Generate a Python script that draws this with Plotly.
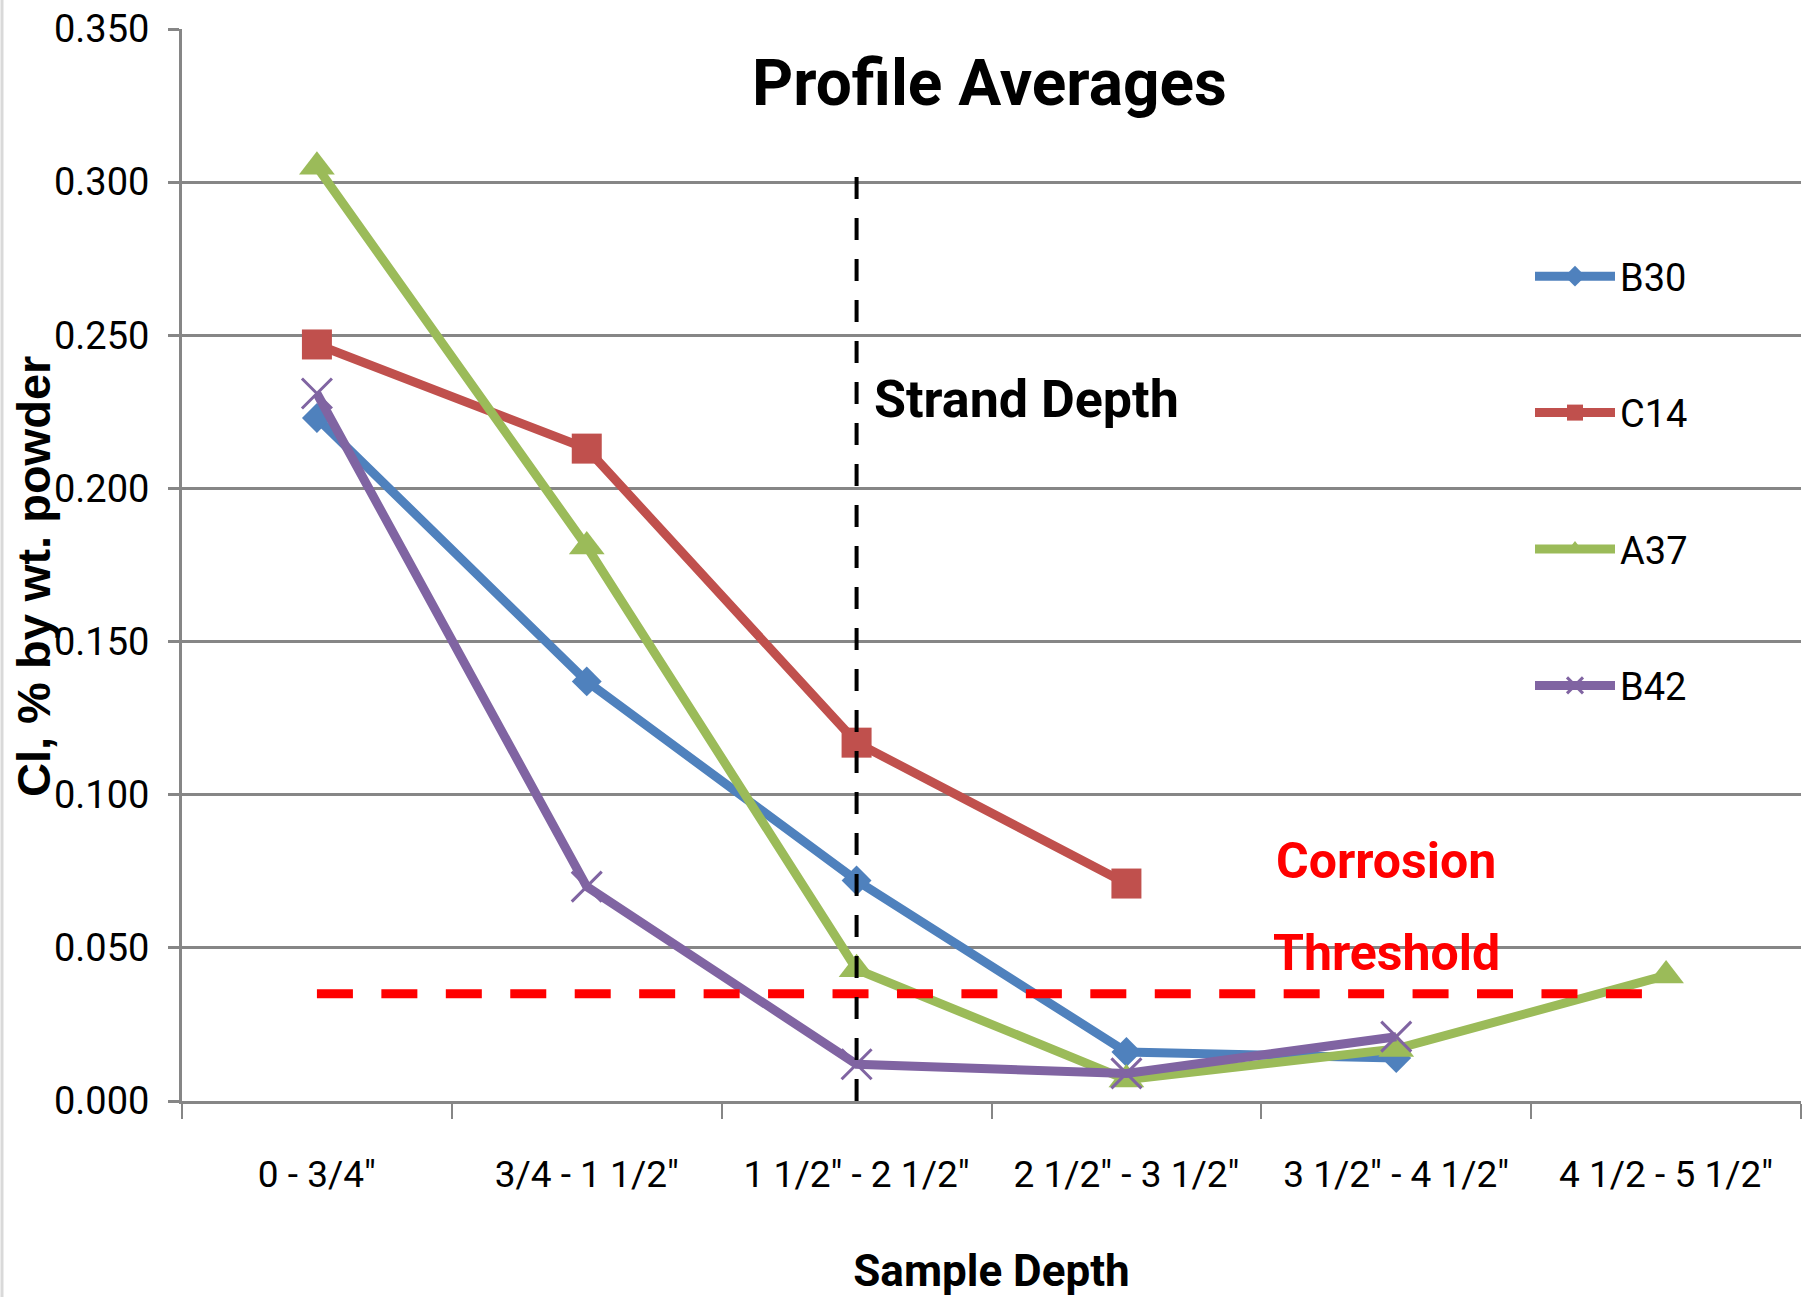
import plotly.graph_objects as go

categories = ['0 - 3/4"', '3/4 - 1 1/2"', '1 1/2" - 2 1/2"', '2 1/2" - 3 1/2"', '3 1/2" - 4 1/2"', '4 1/2 - 5 1/2"']
b30 = [0.223, 0.137, 0.072, 0.016, 0.014, None]
c14 = [0.247, 0.213, 0.117, 0.071, None, None]
a37 = [0.305, 0.181, 0.043, 0.007, 0.017, 0.041]
b42 = [0.231, 0.070, 0.012, 0.009, 0.021, None]
threshold = 0.035
strand_top = 0.302

FONT = "Roboto, Liberation Sans, sans-serif"
ARIAL = "Liberation Sans, Arial, sans-serif"

# plot area in pixels
L, R, T, B = 182, 1801, 29, 1101
W, H = 1808, 1297
def px(x):
    return (x - L) / (R - L)
def py(y):
    return 1 - (y - T) / (B - T)

fig = go.Figure()

series = [
    ("B30", b30, "#4F81BD", dict(symbol="diamond", size=23)),
    ("C14", c14, "#C0504D", dict(symbol="square", size=30)),
    ("A37", a37, "#9BBB59", dict(symbol="triangle-up", size=31)),
    ("B42", b42, "#8064A2", dict(symbol="x-thin-open", size=30, line=dict(width=3, color="#8064A2"))),
]
for name, vals, col, mk in series:
    m = dict(color=col, **mk)
    fig.add_trace(go.Scatter(
        x=categories, y=vals, name=name, mode="lines+markers",
        line=dict(color=col, width=9), marker=m, legendgroup=name,
        connectgaps=False,
    ))

# Corrosion threshold dashed line
fig.add_shape(type="line", xref="x", yref="y", x0=0, x1=4.911, y0=threshold, y1=threshold,
              line=dict(color="#FF0000", width=9, dash="36px,28.45px"), layer="above")
# Strand depth vertical dashed line
fig.add_shape(type="line", xref="x", yref="y", x0=2, x1=2, y0=0, y1=strand_top,
              line=dict(color="#000000", width=4, dash="22px,19px"), layer="above")

fig.add_annotation(text="<b>Profile Averages</b>", xref="paper", yref="paper",
                   x=px(989), y=py(83), showarrow=False,
                   font=dict(family=FONT, size=64, color="black"), xanchor="center", yanchor="middle")
fig.add_annotation(text="<b>Strand Depth</b>", xref="paper", yref="paper",
                   x=px(872), y=py(399), showarrow=False,
                   font=dict(family=FONT, size=52, color="black"), xanchor="left", yanchor="middle")
fig.add_annotation(text="<b>Corrosion</b>", xref="paper", yref="paper",
                   x=px(1386), y=py(861), showarrow=False,
                   font=dict(family=FONT, size=50, color="#FF0000"), xanchor="center", yanchor="middle")
fig.add_annotation(text="<b>Threshold</b>", xref="paper", yref="paper",
                   x=px(1386), y=py(953), showarrow=False,
                   font=dict(family=FONT, size=50, color="#FF0000"), xanchor="center", yanchor="middle")
# y axis title
fig.add_annotation(text="<b>Cl, % by wt. powder</b>", xref="paper", yref="paper",
                   x=px(33), y=py(577), showarrow=False, textangle=-90,
                   font=dict(family=ARIAL, size=47, color="black"), xanchor="center", yanchor="middle")

fig.update_layout(
    width=W, height=H,
    margin=dict(l=L, r=W - R, t=T, b=H - B),
    paper_bgcolor="white", plot_bgcolor="white",
    font=dict(family=FONT, color="black", size=36),
    showlegend=True,
    legend=dict(x=px(1530), y=py(245), xanchor="left", yanchor="top",
                font=dict(family=FONT, size=38, color="black"), tracegroupgap=84,
                bgcolor="rgba(0,0,0,0)", itemwidth=80),
    xaxis=dict(type="category", tickson="boundaries", showgrid=False, showline=True,
               linecolor="#868686", linewidth=3, ticks="outside", ticklen=15, tickwidth=2,
               tickcolor="#868686", tickfont=dict(family=FONT, size=37), ticklabelstandoff=39,
               title=dict(text="<b>Sample Depth</b>", font=dict(family=FONT, size=44), standoff=60),
               range=[-0.5, 5.5]),
    yaxis=dict(range=[0, 0.35], dtick=0.05, tickformat=".3f", showgrid=True, gridcolor="#868686",
               gridwidth=3, showline=True, linecolor="#868686", linewidth=3, ticks="outside",
               ticklen=11, tickwidth=3, tickcolor="#868686", tickfont=dict(family=FONT, size=38),
               ticklabelstandoff=11, zeroline=False),
)
fig.add_shape(type="line", xref="paper", yref="paper", x0=px(2), x1=px(2), y0=py(H), y1=py(0),
              line=dict(color="#D9D9D9", width=3))

fig.write_html("out.html")
